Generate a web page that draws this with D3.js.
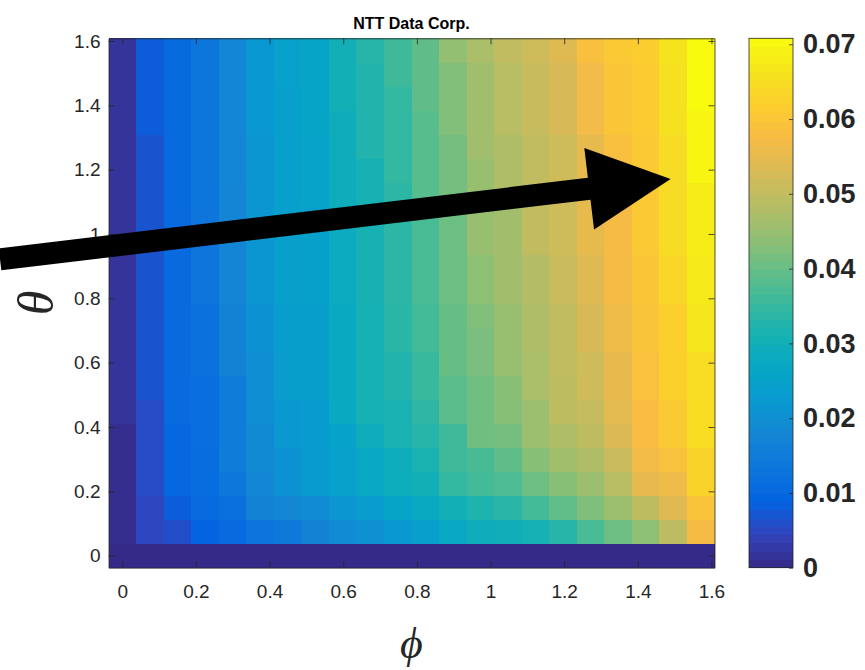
<!DOCTYPE html>
<html>
<head>
<meta charset="utf-8">
<script src="https://cdn.jsdelivr.net/npm/d3@7"></script>
<style>
  body { margin: 0; background: #fff; }
  svg { display: block; }
</style>
</head>
<body>
<script>

// grid of the map (phi across, theta up), both 0 .. pi/2 in 22 steps
const phiValues = [0, 0.0748, 0.1496, 0.2244, 0.2992, 0.3740, 0.4488, 0.5236, 0.5984, 0.6732, 0.7480,
    0.8228, 0.8976, 0.9724, 1.0472, 1.1220, 1.1968, 1.2716, 1.3464, 1.4212, 1.4960, 1.5708];
const thetaValues = [0, 0.0748, 0.1496, 0.2244, 0.2992, 0.3740, 0.4488, 0.5236, 0.5984, 0.6732, 0.7480,
    0.8228, 0.8976, 0.9724, 1.0472, 1.1220, 1.1968, 1.2716, 1.3464, 1.4212, 1.4960, 1.5708];

// one row per theta value (bottom row first), one entry per phi value
const zValues = [
    [0, 0, 0, 0, 0, 0, 0, 0, 0, 0, 0, 0, 0, 0, 0, 0, 0, 0, 0, 0, 0, 0],
    [.0007, .0050, .0060, .0090, .0107, .0130, .0145, .0170, .0190, .0202, .0225, .0242, .0272, .0292, .0298, .0310, .0332, .0371, .0405, .0438, .0495, .0573],
    [.0007, .0050, .0080, .0107, .0120, .0169, .0180, .0190, .0214, .0236, .0259, .0275, .0303, .0322, .0335, .0365, .0395, .0425, .0455, .0495, .0540, .0596],
    [.0007, .0056, .0100, .0112, .0142, .0180, .0208, .0230, .0247, .0270, .0290, .0303, .0348, .0365, .0375, .0405, .0433, .0455, .0489, .0550, .0562, .0630],
    [.0007, .0056, .0100, .0112, .0152, .0186, .0208, .0230, .0247, .0270, .0290, .0315, .0360, .0370, .0393, .0433, .0460, .0478, .0511, .0568, .0590, .0630],
    [.0007, .0056, .0100, .0118, .0152, .0186, .0225, .0230, .0250, .0292, .0315, .0332, .0360, .0410, .0415, .0455, .0478, .0495, .0534, .0579, .0607, .0652],
    [.0017, .0056, .0105, .0118, .0152, .0197, .0225, .0230, .0275, .0310, .0315, .0343, .0388, .0410, .0433, .0455, .0495, .0506, .0545, .0579, .0607, .0652],
    [.0017, .0067, .0105, .0118, .0152, .0197, .0236, .0240, .0275, .0310, .0326, .0354, .0388, .0410, .0433, .0472, .0495, .0517, .0551, .0590, .0624, .0652],
    [.0017, .0067, .0105, .0124, .0169, .0197, .0236, .0240, .0275, .0310, .0326, .0354, .0400, .0420, .0450, .0472, .0500, .0517, .0551, .0590, .0624, .0652],
    [.0017, .0067, .0105, .0124, .0169, .0208, .0236, .0240, .0275, .0310, .0335, .0365, .0400, .0420, .0450, .0478, .0500, .0528, .0562, .0596, .0624, .0669],
    [.0017, .0067, .0107, .0124, .0169, .0208, .0236, .0240, .0275, .0310, .0335, .0365, .0400, .0427, .0450, .0478, .0500, .0528, .0562, .0596, .0624, .0669],
    [.0017, .0067, .0107, .0132, .0175, .0214, .0242, .0245, .0282, .0312, .0338, .0371, .0405, .0438, .0462, .0483, .0511, .0540, .0573, .0600, .0635, .0674],
    [.0017, .0067, .0107, .0132, .0175, .0214, .0242, .0245, .0282, .0312, .0338, .0371, .0405, .0438, .0462, .0483, .0511, .0540, .0573, .0600, .0635, .0674],
    [.0017, .0067, .0107, .0132, .0175, .0214, .0242, .0245, .0282, .0312, .0338, .0371, .0405, .0450, .0462, .0500, .0517, .0551, .0573, .0607, .0646, .0680],
    [.0017, .0067, .0107, .0132, .0175, .0214, .0242, .0245, .0282, .0312, .0338, .0371, .0405, .0450, .0462, .0500, .0517, .0551, .0573, .0607, .0646, .0680],
    [.0017, .0067, .0107, .0135, .0175, .0214, .0242, .0253, .0292, .0312, .0338, .0385, .0415, .0450, .0478, .0500, .0517, .0551, .0585, .0607, .0646, .0680],
    [.0017, .0067, .0107, .0135, .0180, .0214, .0242, .0253, .0292, .0312, .0348, .0385, .0415, .0450, .0478, .0500, .0517, .0551, .0585, .0607, .0646, .0697],
    [.0017, .0067, .0107, .0135, .0180, .0214, .0242, .0253, .0292, .0326, .0348, .0385, .0415, .0460, .0478, .0500, .0517, .0551, .0585, .0607, .0646, .0697],
    [.0017, .0079, .0105, .0135, .0180, .0222, .0242, .0259, .0292, .0326, .0348, .0385, .0427, .0460, .0489, .0508, .0528, .0568, .0600, .0613, .0657, .0697],
    [.0017, .0079, .0105, .0135, .0180, .0222, .0242, .0259, .0303, .0326, .0348, .0393, .0427, .0460, .0489, .0508, .0528, .0568, .0600, .0613, .0657, .0708],
    [.0017, .0079, .0105, .0135, .0180, .0222, .0247, .0259, .0303, .0326, .0360, .0393, .0427, .0460, .0489, .0508, .0528, .0568, .0600, .0613, .0657, .0708],
    [.0017, .0079, .0105, .0135, .0180, .0222, .0247, .0259, .0303, .0332, .0360, .0393, .0444, .0472, .0500, .0517, .0540, .0585, .0607, .0618, .0663, .0708]
];

const axisTicks = [0, 0.2, 0.4, 0.6, 0.8, 1, 1.2, 1.4, 1.6];
const colorTicks = [0, 0.01, 0.02, 0.03, 0.04, 0.05, 0.06, 0.07];
const colorMax = 0.0708;

// parula, sampled every 4th entry of the 64 colour table
const parula = ['#352a87', '#3243ba', '#0363e1', '#0d75dc', '#1485d4', '#0998d1', '#06a7c6', '#15b1b4',
    '#38b99e', '#65be86', '#92bf73', '#b7bd64', '#d9ba56', '#f8bb44', '#fcce2e', '#f5e41d', '#f9fb0e'];

// arrow annotation, in data units of the axes
const arrowTail = [-0.332, 0.921];
const arrowTip = [1.489, 1.171];

const width = 865, height = 670;
const plot = {left: 108.5, right: 714.5, top: 38.3, bottom: 567.7};
const bar = {left: 749, right: 793};
const inkColor = '#262626';
const sans = 'Arial, "Liberation Sans", Helvetica, sans-serif';
const serif = '"Liberation Serif", "Times New Roman", serif';

const step = phiValues[1] - phiValues[0];

const svg = d3.select('body').append('svg')
    .attr('width', width)
    .attr('height', height)
    .style('font-family', sans);

svg.append('rect').attr('width', width).attr('height', height).attr('fill', '#fff');

const x = d3.scaleLinear()
    .domain([phiValues[0] - step / 2, phiValues[phiValues.length - 1] + step / 2])
    .range([plot.left, plot.right]);

const y = d3.scaleLinear()
    .domain([thetaValues[0] - step / 2, thetaValues[thetaValues.length - 1] + step / 2])
    .range([plot.bottom, plot.top]);

const color = d3.scaleLinear()
    .domain(parula.map((c, i) => colorMax * i / (parula.length - 1)))
    .range(parula)
    .clamp(true);

// cells
const cells = [];
zValues.forEach((row, i) => {
    row.forEach((v, j) => {
        cells.push({phi: phiValues[j], theta: thetaValues[i], v: v});
    });
});

svg.append('g')
    .attr('shape-rendering', 'crispEdges')
    .selectAll('rect')
    .data(cells)
    .join('rect')
    .attr('x', d => x(d.phi - step / 2))
    .attr('y', d => y(d.theta + step / 2))
    .attr('width', d => x(d.phi + step / 2) - x(d.phi - step / 2) + 0.5)
    .attr('height', d => y(d.theta - step / 2) - y(d.theta + step / 2) + 0.5)
    .attr('fill', d => color(d.v));

// axes, ticks pointing inward on all four sides
const fmt = d => String(+d.toFixed(1));

svg.append('g')
    .attr('transform', `translate(0,${plot.bottom})`)
    .call(d3.axisBottom(x).tickValues(axisTicks).tickFormat(fmt).tickSize(-6).tickSizeOuter(0).tickPadding(17));

svg.append('g')
    .attr('transform', `translate(${plot.left},0)`)
    .call(d3.axisLeft(y).tickValues(axisTicks).tickFormat(fmt).tickSize(-6).tickSizeOuter(0).tickPadding(8));

svg.append('g')
    .attr('transform', `translate(0,${plot.top})`)
    .call(d3.axisTop(x).tickValues(axisTicks).tickFormat('').tickSize(-6).tickSizeOuter(0));

svg.append('g')
    .attr('transform', `translate(${plot.right},0)`)
    .call(d3.axisRight(y).tickValues(axisTicks).tickFormat('').tickSize(-6).tickSizeOuter(0));

svg.selectAll('.domain').attr('stroke', inkColor).attr('stroke-width', 0.8);
svg.selectAll('.tick line').attr('stroke', inkColor).attr('stroke-width', 0.8);
svg.selectAll('.tick text')
    .attr('fill', inkColor)
    .style('font-size', '19px')
    .style('font-family', sans);

// title and axis labels
svg.append('text')
    .attr('x', (plot.left + plot.right) / 2)
    .attr('y', 29)
    .attr('text-anchor', 'middle')
    .attr('fill', '#000')
    .style('font-size', '16px')
    .style('font-weight', 'bold')
    .text('NTT Data Corp.');

svg.append('text')
    .attr('x', (plot.left + plot.right) / 2)
    .attr('y', 658)
    .attr('text-anchor', 'middle')
    .attr('fill', inkColor)
    .style('font-family', serif)
    .style('font-style', 'italic')
    .style('font-size', '44px')
    .text('\u03D5');

svg.append('text')
    .attr('transform', `translate(53,${(plot.top + plot.bottom) / 2}) rotate(-90)`)
    .attr('text-anchor', 'middle')
    .attr('fill', inkColor)
    .style('font-family', serif)
    .style('font-style', 'italic')
    .style('font-size', '50px')
    .text('\u03B8');

// colorbar
const cy = d3.scaleLinear().domain([0, colorMax]).range([plot.bottom, plot.top]);
const bands = d3.range(64);

svg.append('g')
    .attr('shape-rendering', 'crispEdges')
    .selectAll('rect')
    .data(bands)
    .join('rect')
    .attr('x', bar.left)
    .attr('y', d => cy(colorMax * (d + 1) / 64))
    .attr('width', bar.right - bar.left)
    .attr('height', d => cy(colorMax * d / 64) - cy(colorMax * (d + 1) / 64) + 0.5)
    .attr('fill', d => color(colorMax * (d + 0.5) / 64));

svg.append('rect')
    .attr('x', bar.left)
    .attr('y', plot.top)
    .attr('width', bar.right - bar.left)
    .attr('height', plot.bottom - plot.top)
    .attr('fill', 'none')
    .attr('stroke', inkColor)
    .attr('stroke-width', 0.8);

const cAxis = svg.append('g')
    .attr('transform', `translate(${bar.right},0)`)
    .call(d3.axisRight(cy).tickValues(colorTicks).tickFormat(d => String(+d.toFixed(2))).tickSize(-4).tickSizeOuter(0).tickPadding(10));

cAxis.select('.domain').remove();
cAxis.selectAll('.tick line').attr('stroke', inkColor).attr('stroke-width', 0.8);
cAxis.selectAll('.tick text')
    .attr('fill', inkColor)
    .style('font-size', '27px')
    .style('font-weight', 'bold')
    .style('font-family', sans);

// arrow annotation
const p0 = [x(arrowTail[0]), y(arrowTail[1])];
const p1 = [x(arrowTip[0]), y(arrowTip[1])];
const len = Math.hypot(p1[0] - p0[0], p1[1] - p0[1]);
const u = [(p1[0] - p0[0]) / len, (p1[1] - p0[1]) / len];
const n = [-u[1], u[0]];
const shaftHalf = 11, headLen = 82, headHalf = 41;
const base = [p1[0] - u[0] * headLen, p1[1] - u[1] * headLen];
const pt = (p, k) => [p[0] + n[0] * k, p[1] + n[1] * k];

svg.append('polygon')
    .attr('points', [
        pt(p0, shaftHalf), pt(base, shaftHalf), pt(base, headHalf), p1,
        pt(base, -headHalf), pt(base, -shaftHalf), pt(p0, -shaftHalf)
    ].map(p => p.join(',')).join(' '))
    .attr('fill', '#000');

</script>
</body>
</html>
